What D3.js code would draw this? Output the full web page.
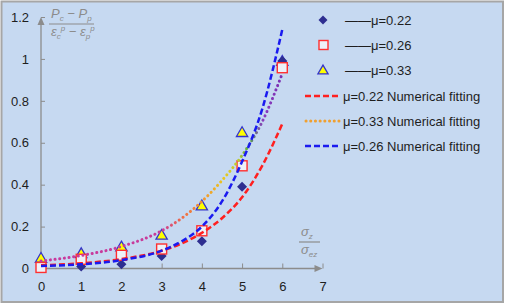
<!DOCTYPE html>
<html>
<head>
<meta charset="utf-8">
<script src="https://cdn.jsdelivr.net/npm/d3@7"></script>
<style>
  body { margin: 0; background: #fff; }
  text { font-family: "Liberation Sans", Arial, sans-serif; }
</style>
</head>
<body>
<div id="chart"></div>
<script>
const WIDTH = 505, HEIGHT = 305;

// measured points
const xs = [0, 1, 2, 3, 4, 5, 6];
const mu022 = [0.005, 0.01, 0.02, 0.06, 0.13, 0.39, 0.99];
const mu026 = [0.005, 0.044, 0.063, 0.093, 0.18, 0.49, 0.958];
const mu033 = [0.05, 0.072, 0.104, 0.16, 0.30, 0.65, 0.99];

// fitted curves
const fitX = [0, 1, 2, 3, 3.5, 4, 4.5, 5, 5.5, 6];
const fit022 = [0.015, 0.025, 0.045, 0.085, 0.12, 0.17, 0.24, 0.34, 0.49, 0.69];
const fit026 = [0.012, 0.02, 0.04, 0.085, 0.13, 0.2, 0.32, 0.51, 0.76, 1.14];
const fit033 = [0.036, 0.062, 0.105, 0.18, 0.24, 0.32, 0.42, 0.54, 0.70, 0.93];

const xTicks = [0, 1, 2, 3, 4, 5, 6, 7];
const yTicks = [0, 0.2, 0.4, 0.6, 0.8, 1, 1.2];

const legendLabels = ["\u2014\u2014\u03bc=0.22", "\u2014\u2014\u03bc=0.26", "\u2014\u2014\u03bc=0.33",
  "\u03bc=0.22 Numerical fitting", "\u03bc=0.33 Numerical fitting", "\u03bc=0.26 Numerical fitting"];

const svg = d3.select("#chart").append("svg")
    .attr("width", WIDTH)
    .attr("height", HEIGHT);

svg.append("rect")
    .attr("x", 1.5).attr("y", 1.5)
    .attr("width", WIDTH - 3.5).attr("height", HEIGHT - 4.5)
    .attr("fill", "#C6D9F1")
    .attr("stroke", "#A6A6A6")
    .attr("stroke-width", 2);

const x = d3.scaleLinear().domain([0, 7]).range([41, 322.5]);
const y = d3.scaleLinear().domain([0, 1.2]).range([268.5, 17]);

// gradient for the dotted curve
const defs = svg.append("defs");
const grad = defs.append("linearGradient")
    .attr("id", "dotGrad")
    .attr("gradientUnits", "userSpaceOnUse")
    .attr("x1", x(0)).attr("x2", x(6)).attr("y1", 0).attr("y2", 0);
[[0, "#C8389E"], [0.5, "#C83C9A"], [0.58, "#EE6A4A"], [0.68, "#F09A30"],
 [0.76, "#E8C820"], [0.82, "#B8C830"], [0.86, "#50A848"], [0.92, "#8A3CC0"], [1, "#7A30B0"]]
  .forEach(s => grad.append("stop").attr("offset", s[0]).attr("stop-color", s[1]));

// axes
const axisColor = "#8C8C8C";
const gx = svg.append("g")
    .attr("transform", `translate(0,${y(0)})`)
    .call(d3.axisBottom(x).tickValues(xTicks).tickSizeInner(-5).tickSizeOuter(0).tickPadding(13)
      .tickFormat(d3.format("d")));
const gy = svg.append("g")
    .attr("transform", `translate(${x(0)},0)`)
    .call(d3.axisLeft(y).tickValues(yTicks).tickSizeInner(-4).tickSizeOuter(0).tickPadding(12)
      .tickFormat(d => d === 0 ? "0" : d3.format("")(d)));
[gx, gy].forEach(g => {
  g.select(".domain").remove();
  g.selectAll(".tick line").attr("stroke", axisColor);
  g.selectAll(".tick text").attr("fill", "#1E1E1E").style("font-size", "13px")
    .style("font-family", "Liberation Sans, Arial, sans-serif");
});

svg.append("line")
    .attr("x1", x(0)).attr("x2", x(7) - 6)
    .attr("y1", y(0)).attr("y2", y(0))
    .attr("stroke", axisColor).attr("stroke-width", 1.3);
svg.append("path")
    .attr("d", `M${x(7)},${y(0)} L${x(7) - 8},${y(0) - 3.5} L${x(7) - 8},${y(0) + 3.5}Z`)
    .attr("fill", axisColor);
svg.append("line")
    .attr("x1", x(0)).attr("x2", x(0))
    .attr("y1", y(0)).attr("y2", y(1.2) + 6)
    .attr("stroke", axisColor).attr("stroke-width", 1.3);
svg.append("path")
    .attr("d", `M${x(0)},${y(1.2)} L${x(0) - 3.5},${y(1.2) + 8} L${x(0) + 3.5},${y(1.2) + 8}Z`)
    .attr("fill", axisColor);

// axis titles
const titleColor = "#8C8C8C";
function frac(x0, yTop, num, den, lineW) {
  const g = svg.append("g").style("font-family", "Liberation Serif, Times New Roman, serif")
      .style("font-style", "italic").attr("fill", titleColor).style("font-size", "13px");
  const t1 = g.append("text").attr("x", x0).attr("y", yTop);
  num.forEach(p => t1.append("tspan").text(p[0]).attr("dy", p[1]).style("font-size", p[2] || "13px"));
  g.append("line").attr("x1", x0 - 2).attr("x2", x0 - 2 + lineW)
    .attr("y1", yTop + 6).attr("y2", yTop + 6).attr("stroke", titleColor).attr("stroke-width", 1.2);
  const t2 = g.append("text").attr("x", x0).attr("y", yTop + 18);
  den.forEach(p => t2.append("tspan").text(p[0]).attr("dy", p[1]).style("font-size", p[2] || "13px"));
}
frac(51, 18,
  [["P", 0], ["c", 3, "8px"], [" \u2212 ", -3], ["P", 0], ["p", 3, "8px"]],
  [["\u03b5", 0], ["c", 3, "8px"], ["p", -8, "8px"], [" \u2212 ", 5], ["\u03b5", 0], ["p", 3, "8px"], ["p", -8, "8px"]],
  45);
frac(301, 236,
  [["\u03c3", 0], ["z", 3, "8px"]],
  [["\u03c3", 0], ["ez", 3, "8px"]],
  21);

// markers
const plot = svg.append("g");
plot.selectAll("path.tri").data(xs).join("path")
    .attr("class", "tri")
    .attr("d", d3.symbol(d3.symbolTriangle, 55))
    .attr("transform", (d, i) => `translate(${x(d)},${y(mu033[i]) + 1})`)
    .attr("fill", "#FFFF00").attr("stroke", "#3333CC").attr("stroke-width", 1.3);
plot.selectAll("path.dia").data(xs).join("path")
    .attr("class", "dia")
    .attr("d", d3.symbol(d3.symbolSquare, 50))
    .attr("transform", (d, i) => `translate(${x(d)},${y(mu022[i])}) rotate(45)`)
    .attr("fill", "#2E2E90");
plot.selectAll("rect.sq").data(xs).join("rect")
    .attr("class", "sq")
    .attr("x", d => x(d) - 5).attr("width", 10).attr("height", 10)
    .attr("y", (d, i) => y(mu026[i]) - 5)
    .attr("fill", "#EEF1F8").attr("stroke", "#FF3030").attr("stroke-width", 1.4);

// fitted curves
function drawFit(vals, stroke, dash, width, cap) {
  const line = d3.line().x((d, i) => x(fitX[i])).y(d => y(d)).curve(d3.curveMonotoneX);
  svg.append("path").datum(vals)
      .attr("d", line)
      .attr("fill", "none")
      .attr("stroke", stroke)
      .attr("stroke-width", width)
      .attr("stroke-dasharray", dash)
      .attr("stroke-linecap", cap);
}
drawFit(fit033, "url(#dotGrad)", "0.1,4.6", 3, "round");
drawFit(fit022, "#FF2020", "6,3", 2.5, "butt");
drawFit(fit026, "#1A1AF0", "6,3", 2.5, "butt");

// legend
const leg = svg.append("g");
const legY = [20, 45, 70, 96, 121, 146];
leg.append("path").attr("d", d3.symbol(d3.symbolSquare, 40))
    .attr("transform", `translate(323,${legY[0]}) rotate(45)`).attr("fill", "#2E2E90");
leg.append("rect").attr("x", 319).attr("y", legY[1] - 4.5).attr("width", 9).attr("height", 9)
    .attr("fill", "#EEF1F8").attr("stroke", "#FF3030").attr("stroke-width", 1.4);
leg.append("path").attr("d", d3.symbol(d3.symbolTriangle, 45))
    .attr("transform", `translate(323,${legY[2] + 1})`)
    .attr("fill", "#FFFF00").attr("stroke", "#3333CC").attr("stroke-width", 1.3);
leg.append("line").attr("x1", 305).attr("x2", 340).attr("y1", legY[3]).attr("y2", legY[3])
    .attr("stroke", "#FF2020").attr("stroke-width", 2.5).attr("stroke-dasharray", "6,3");
leg.append("line").attr("x1", 306).attr("x2", 340).attr("y1", legY[4]).attr("y2", legY[4])
    .attr("stroke", "#F0A030").attr("stroke-width", 3).attr("stroke-dasharray", "0.1,4.6")
    .attr("stroke-linecap", "round");
leg.append("line").attr("x1", 305).attr("x2", 340).attr("y1", legY[5]).attr("y2", legY[5])
    .attr("stroke", "#1A1AF0").attr("stroke-width", 2.5).attr("stroke-dasharray", "6,3");
leg.selectAll("text").data(legendLabels).join("text")
    .attr("x", (d, i) => i < 3 ? 345 : 343)
    .attr("y", (d, i) => legY[i])
    .attr("dy", "0.35em")
    .style("font-size", "13px")
    .attr("fill", "#1E1E1E")
    .text(d => d);
</script>
</body>
</html>
